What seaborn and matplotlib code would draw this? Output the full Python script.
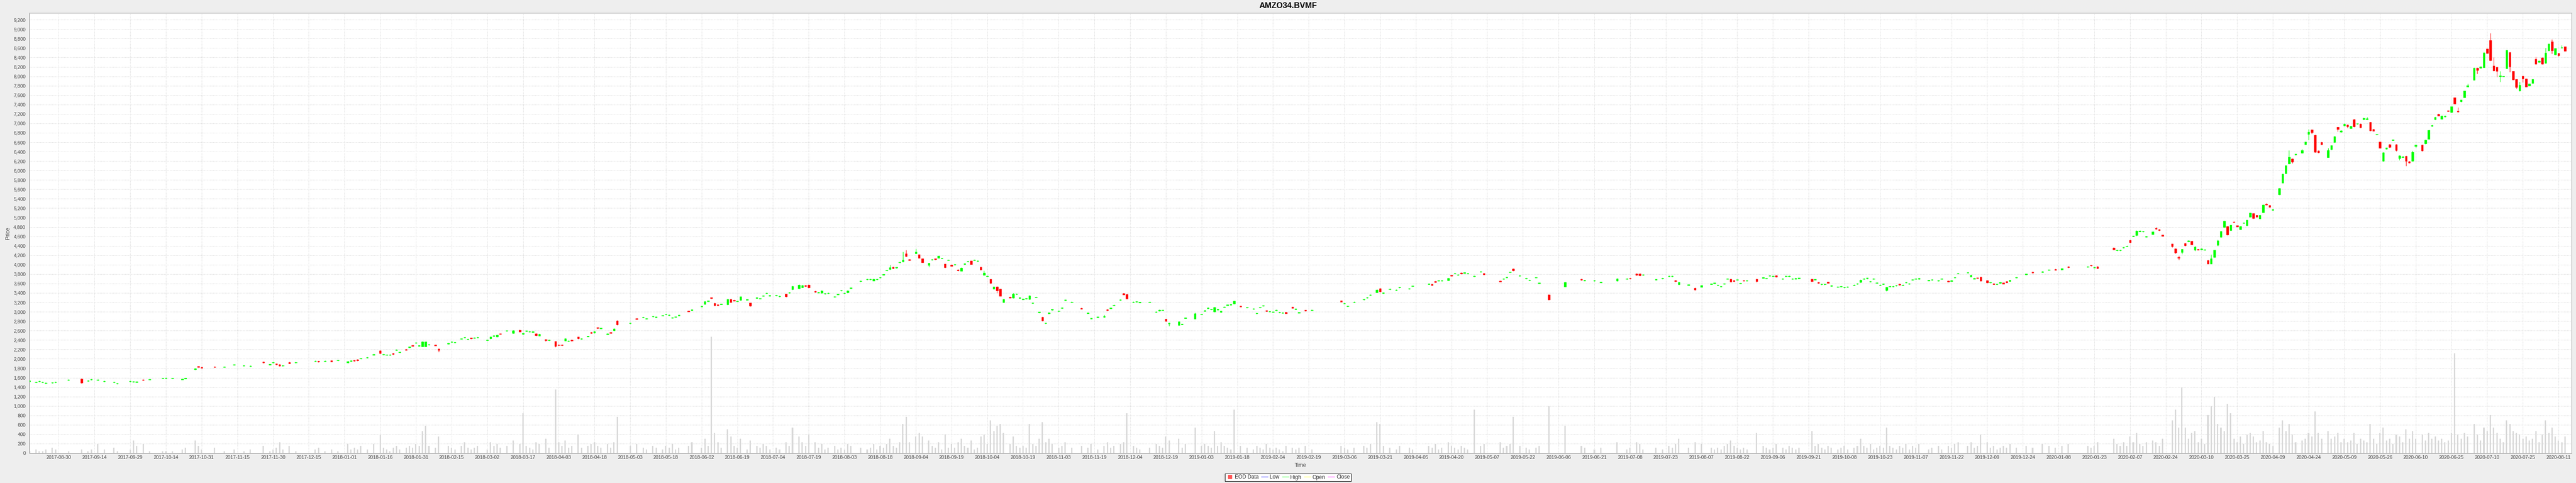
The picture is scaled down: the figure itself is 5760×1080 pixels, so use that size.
import numpy as np
import matplotlib
matplotlib.use("Agg")
import matplotlib.pyplot as plt
from matplotlib.lines import Line2D
from matplotlib.ticker import FuncFormatter, MultipleLocator
import seaborn as sns

# daily EOD candles, AMZO34.BVMF
dates = [
    # 2017-08 .. 2018-05
    "2017-08-17", "2017-08-21", "2017-08-22", "2017-08-23", "2017-08-24", "2017-08-28", "2017-08-29", "2017-09-04", "2017-09-08", "2017-09-12",
    "2017-09-13", "2017-09-15", "2017-09-19", "2017-09-22", "2017-09-25", "2017-09-29", "2017-10-02", "2017-10-03", "2017-10-05", "2017-10-09",
    "2017-10-13", "2017-10-16", "2017-10-18", "2017-10-23", "2017-10-24", "2017-10-27", "2017-10-30", "2017-10-31", "2017-11-06", "2017-11-09",
    "2017-11-14", "2017-11-17", "2017-11-21", "2017-11-27", "2017-11-29", "2017-11-30", "2017-12-01", "2017-12-04", "2017-12-05", "2017-12-07",
    "2017-12-11", "2017-12-19", "2017-12-20", "2017-12-22", "2017-12-26", "2017-12-28", "2018-01-02", "2018-01-03", "2018-01-04", "2018-01-05",
    "2018-01-08", "2018-01-10", "2018-01-12", "2018-01-16", "2018-01-17", "2018-01-18", "2018-01-19", "2018-01-22", "2018-01-23", "2018-01-24",
    "2018-01-26", "2018-01-29", "2018-01-30", "2018-01-31", "2018-02-01", "2018-02-02", "2018-02-05", "2018-02-06", "2018-02-08", "2018-02-09",
    "2018-02-14", "2018-02-15", "2018-02-16", "2018-02-20", "2018-02-21", "2018-02-22", "2018-02-23", "2018-02-26", "2018-02-27", "2018-03-02",
    "2018-03-05", "2018-03-06", "2018-03-07", "2018-03-08", "2018-03-12", "2018-03-14", "2018-03-16", "2018-03-19", "2018-03-20", "2018-03-21",
    "2018-03-22", "2018-03-23", "2018-03-26", "2018-03-28", "2018-03-29", "2018-04-02", "2018-04-03", "2018-04-04", "2018-04-05", "2018-04-06",
    "2018-04-09", "2018-04-11", "2018-04-12", "2018-04-16", "2018-04-17", "2018-04-18", "2018-04-19", "2018-04-20", "2018-04-24", "2018-04-25",
    "2018-04-26", "2018-04-27", "2018-05-03", "2018-05-07", "2018-05-09", "2018-05-10", "2018-05-14", "2018-05-15", "2018-05-17", "2018-05-18",
    "2018-05-21", "2018-05-22", "2018-05-23", "2018-05-24", "2018-05-29", "2018-05-30",
    # 2018-06 .. 2019-02
    "2018-06-04", "2018-06-05", "2018-06-06", "2018-06-07", "2018-06-08", "2018-06-11", "2018-06-12", "2018-06-14", "2018-06-15", "2018-06-18",
    "2018-06-19", "2018-06-20", "2018-06-22", "2018-06-25", "2018-06-27", "2018-06-28", "2018-06-29", "2018-07-02", "2018-07-03", "2018-07-05",
    "2018-07-06", "2018-07-10", "2018-07-11", "2018-07-12", "2018-07-16", "2018-07-17", "2018-07-18", "2018-07-19", "2018-07-23", "2018-07-24",
    "2018-07-25", "2018-07-26", "2018-07-27", "2018-07-31", "2018-08-01", "2018-08-02", "2018-08-03", "2018-08-06", "2018-08-07", "2018-08-10",
    "2018-08-14", "2018-08-15", "2018-08-16", "2018-08-17", "2018-08-20", "2018-08-21", "2018-08-22", "2018-08-23", "2018-08-24", "2018-08-27",
    "2018-08-28", "2018-08-29", "2018-08-30", "2018-08-31", "2018-09-04", "2018-09-05", "2018-09-06", "2018-09-10", "2018-09-11", "2018-09-12",
    "2018-09-13", "2018-09-14", "2018-09-17", "2018-09-18", "2018-09-19", "2018-09-20", "2018-09-21", "2018-09-24", "2018-09-25", "2018-09-26",
    "2018-09-27", "2018-09-28", "2018-10-01", "2018-10-02", "2018-10-03", "2018-10-04", "2018-10-05", "2018-10-08", "2018-10-09", "2018-10-10",
    "2018-10-11", "2018-10-15", "2018-10-16", "2018-10-17", "2018-10-18", "2018-10-19", "2018-10-22", "2018-10-23", "2018-10-24", "2018-10-25",
    "2018-10-26", "2018-10-29", "2018-10-30", "2018-10-31", "2018-11-01", "2018-11-05", "2018-11-06", "2018-11-07", "2018-11-09", "2018-11-14",
    "2018-11-16", "2018-11-19", "2018-11-21", "2018-11-23", "2018-11-26", "2018-11-27", "2018-11-28", "2018-11-30", "2018-12-03", "2018-12-04",
    "2018-12-06", "2018-12-07", "2018-12-10", "2018-12-13", "2018-12-17", "2018-12-18", "2018-12-19", "2018-12-20", "2018-12-21", "2018-12-26",
    "2018-12-27", "2018-12-28", "2019-01-02", "2019-01-04", "2019-01-07", "2019-01-08", "2019-01-09", "2019-01-10", "2019-01-11", "2019-01-14",
    "2019-01-15", "2019-01-16", "2019-01-17", "2019-01-18", "2019-01-22", "2019-01-24", "2019-01-28", "2019-01-29", "2019-01-30", "2019-01-31",
    "2019-02-01", "2019-02-04", "2019-02-05", "2019-02-06", "2019-02-07", "2019-02-08", "2019-02-11", "2019-02-13", "2019-02-14", "2019-02-15",
    "2019-02-19", "2019-02-21",
    # 2019-03 .. 2020-01
    "2019-03-06", "2019-03-07", "2019-03-08", "2019-03-12", "2019-03-15", "2019-03-18", "2019-03-19", "2019-03-21", "2019-03-22", "2019-03-25",
    "2019-03-27", "2019-03-29", "2019-04-01", "2019-04-04", "2019-04-05", "2019-04-12", "2019-04-15", "2019-04-16", "2019-04-17", "2019-04-18",
    "2019-04-22", "2019-04-23", "2019-04-24", "2019-04-25", "2019-04-26", "2019-04-29", "2019-04-30", "2019-05-02", "2019-05-06", "2019-05-07",
    "2019-05-14", "2019-05-15", "2019-05-16", "2019-05-17", "2019-05-20", "2019-05-22", "2019-05-24", "2019-05-27", "2019-05-29", "2019-05-30",
    "2019-06-04", "2019-06-11", "2019-06-18", "2019-06-19", "2019-06-24", "2019-06-26", "2019-07-03", "2019-07-08", "2019-07-09", "2019-07-11",
    "2019-07-12", "2019-07-15", "2019-07-19", "2019-07-23", "2019-07-25", "2019-07-26", "2019-07-29", "2019-07-30", "2019-08-02", "2019-08-06",
    "2019-08-08", "2019-08-13", "2019-08-14", "2019-08-15", "2019-08-16", "2019-08-19", "2019-08-20", "2019-08-21", "2019-08-22", "2019-08-23",
    "2019-08-26", "2019-08-27", "2019-08-28", "2019-09-02", "2019-09-04", "2019-09-05", "2019-09-06", "2019-09-09", "2019-09-10", "2019-09-12",
    "2019-09-13", "2019-09-16", "2019-09-17", "2019-09-18", "2019-09-19", "2019-09-25", "2019-09-26", "2019-09-27", "2019-09-30", "2019-10-01",
    "2019-10-02", "2019-10-03", "2019-10-07", "2019-10-08", "2019-10-09", "2019-10-10", "2019-10-14", "2019-10-15", "2019-10-16", "2019-10-17",
    "2019-10-18", "2019-10-21", "2019-10-22", "2019-10-23", "2019-10-24", "2019-10-25", "2019-10-28", "2019-10-29", "2019-10-30", "2019-10-31",
    "2019-11-01", "2019-11-04", "2019-11-05", "2019-11-06", "2019-11-07", "2019-11-08", "2019-11-11", "2019-11-14", "2019-11-15", "2019-11-19",
    "2019-11-20", "2019-11-22", "2019-11-25", "2019-11-26", "2019-11-27", "2019-12-02", "2019-12-03", "2019-12-04", "2019-12-05", "2019-12-06",
    "2019-12-10", "2019-12-11", "2019-12-12", "2019-12-13", "2019-12-16", "2019-12-17", "2019-12-18", "2019-12-19", "2019-12-23", "2019-12-26",
    "2019-12-30", "2020-01-02", "2020-01-06", "2020-01-08", "2020-01-10",
    # 2020-01 .. 2020-08
    "2020-01-14", "2020-01-22", "2020-01-23", "2020-01-24", "2020-01-27", "2020-02-03", "2020-02-04", "2020-02-05", "2020-02-06", "2020-02-07",
    "2020-02-10", "2020-02-11", "2020-02-12", "2020-02-13", "2020-02-14", "2020-02-17", "2020-02-19", "2020-02-20", "2020-02-21", "2020-02-24",
    "2020-02-27", "2020-02-28", "2020-03-02", "2020-03-03", "2020-03-04", "2020-03-05", "2020-03-06", "2020-03-09", "2020-03-10", "2020-03-11",
    "2020-03-12", "2020-03-13", "2020-03-16", "2020-03-17", "2020-03-18", "2020-03-19", "2020-03-20", "2020-03-23", "2020-03-24", "2020-03-25",
    "2020-03-26", "2020-03-27", "2020-03-30", "2020-03-31", "2020-04-01", "2020-04-02", "2020-04-03", "2020-04-06", "2020-04-07", "2020-04-08",
    "2020-04-09", "2020-04-10", "2020-04-14", "2020-04-15", "2020-04-16", "2020-04-17", "2020-04-20", "2020-04-21", "2020-04-23", "2020-04-24",
    "2020-04-27", "2020-04-28", "2020-04-29", "2020-04-30", "2020-05-01", "2020-05-05", "2020-05-06", "2020-05-07", "2020-05-08", "2020-05-11",
    "2020-05-12", "2020-05-13", "2020-05-14", "2020-05-15", "2020-05-18", "2020-05-19", "2020-05-20", "2020-05-21", "2020-05-22", "2020-05-25",
    "2020-05-26", "2020-05-27", "2020-05-28", "2020-05-29", "2020-06-01", "2020-06-02", "2020-06-03", "2020-06-04", "2020-06-05", "2020-06-08",
    "2020-06-09", "2020-06-10", "2020-06-11", "2020-06-15", "2020-06-16", "2020-06-17", "2020-06-18", "2020-06-19", "2020-06-22", "2020-06-23",
    "2020-06-24", "2020-06-25", "2020-06-26", "2020-06-29", "2020-06-30", "2020-07-01", "2020-07-02", "2020-07-03", "2020-07-07", "2020-07-08",
    "2020-07-09", "2020-07-10", "2020-07-13", "2020-07-14", "2020-07-15", "2020-07-16", "2020-07-17", "2020-07-20", "2020-07-21", "2020-07-22",
    "2020-07-23", "2020-07-24", "2020-07-27", "2020-07-28", "2020-07-29", "2020-07-30", "2020-07-31", "2020-08-03", "2020-08-04", "2020-08-05",
    "2020-08-06", "2020-08-07", "2020-08-10", "2020-08-11", "2020-08-12", "2020-08-13", "2020-08-14",
]

opens = [
    1524, 1502, 1518, 1500, 1481, 1487, 1500, 1548, 1578, 1525,
    1557, 1545, 1519, 1497, 1472, 1516, 1510, 1503, 1558, 1557,
    1582, 1586, 1582, 1560, 1579, 1778, 1840, 1823, 1836, 1823,
    1870, 1851, 1839, 1940, 1874, 1918, 1896, 1880, 1851, 1928,
    1918, 1946, 1953, 1946, 1962, 1962, 1915, 1950, 1972, 1984,
    2003, 2019, 2084, 2174, 2086, 2079, 2076, 2116, 2184, 2136,
    2204, 2243, 2290, 2336, 2272, 2263, 2264, 2295, 2300, 2215,
    2318, 2354, 2342, 2418, 2448, 2412, 2448, 2440, 2449, 2393,
    2428, 2480, 2467, 2540, 2592, 2548, 2614, 2528, 2586, 2573,
    2567, 2535, 2491, 2415, 2394, 2370, 2298, 2297, 2386, 2371,
    2402, 2465, 2421, 2472, 2563, 2554, 2664, 2643, 2520, 2565,
    2599, 2813, 2754, 2860, 2877, 2845, 2896, 2880, 2915, 2942,
    2921, 2864, 2887, 2918, 3022, 3031,
    3108, 3162, 3222, 3302, 3181, 3155, 3156, 3155, 3266, 3249,
    3219, 3247, 3251, 3187, 3289, 3276, 3330, 3387, 3336, 3342,
    3320, 3377, 3399, 3472, 3497, 3518, 3560, 3570, 3440, 3403,
    3399, 3380, 3387, 3314, 3365, 3447, 3387, 3410, 3498, 3646,
    3684, 3684, 3660, 3684, 3719, 3782, 3874, 3905, 3950, 3932,
    4044, 4064, 4238, 4112, 4239, 4212, 4127, 3985, 4098, 4128,
    4143, 4128, 4013, 4089, 3998, 3996, 3895, 3868, 4009, 4061,
    4080, 4089, 4074, 3950, 3780, 3749, 3690, 3485, 3535, 3485,
    3200, 3318, 3295, 3367, 3289, 3260, 3276, 3263, 3181, 3301,
    2978, 2889, 2751, 2962, 3036, 3010, 3077, 3241, 3197, 3074,
    2966, 2852, 2880, 2888, 3048, 3070, 3131, 3244, 3390, 3374,
    3200, 3206, 3194, 3197, 2991, 3020, 3029, 2845, 2748, 2716,
    2729, 2861, 2852, 2944, 3015, 3070, 3045, 2997, 3043, 2990,
    3092, 3137, 3146, 3174, 3126, 3086, 3058, 2963, 3083, 3121,
    3025, 2997, 2991, 3029, 2979, 2969, 2996, 3104, 3051, 2975,
    3035, 3029,
    3234, 3171, 3114, 3196, 3256, 3294, 3348, 3414, 3493, 3395,
    3475, 3459, 3513, 3487, 3538, 3585, 3587, 3646, 3655, 3655,
    3665, 3780, 3804, 3775, 3829, 3820, 3807, 3750, 3845, 3815,
    3661, 3690, 3725, 3835, 3915, 3759, 3702, 3668, 3718, 3604,
    3363, 3537, 3693, 3661, 3652, 3623, 3658, 3696, 3714, 3808,
    3810, 3779, 3680, 3702, 3747, 3753, 3668, 3580, 3566, 3506,
    3528, 3585, 3604, 3557, 3532, 3588, 3693, 3699, 3665, 3674,
    3598, 3668, 3652, 3699, 3716, 3702, 3756, 3747, 3772, 3696,
    3753, 3753, 3696, 3699, 3706, 3699, 3680, 3632, 3576, 3582,
    3635, 3547, 3525, 3535, 3513, 3522, 3563, 3592, 3629, 3693,
    3706, 3636, 3693, 3608, 3557, 3585, 3458, 3532, 3532, 3554,
    3590, 3563, 3620, 3592, 3671, 3690, 3696, 3661, 3677, 3652,
    3693, 3660, 3650, 3718, 3807, 3829, 3745, 3699, 3727, 3737,
    3664, 3620, 3600, 3576, 3610, 3614, 3643, 3650, 3720, 3790,
    3850, 3840, 3880, 3905, 3895,
    3962, 3948, 3992, 3934, 3963, 4357, 4301, 4301, 4357, 4384,
    4520, 4601, 4623, 4705, 4697, 4591, 4647, 4780, 4747, 4630,
    4440, 4340, 4160, 4260, 4453, 4490, 4497, 4313, 4326, 4322,
    4309, 4093, 4020, 4163, 4420, 4587, 4797, 4817, 4730, 4912,
    4830, 4747, 4880, 4833, 5013, 5087, 5050, 4980, 5107, 5290,
    5262, 5160, 5487, 5740, 5940, 6140, 6253, 6330, 6373, 6557,
    6773, 6870, 6753, 6420, 6603, 6280, 6447, 6597, 6920, 6815,
    6950, 6970, 6898, 7087, 6985, 6993, 7083, 7080, 7023, 6880,
    6758, 6607, 6197, 6457, 6553, 6642, 6553, 6260, 6280, 6307,
    6195, 6197, 6515, 6547, 6573, 6670, 6940, 7080, 7200, 7090,
    7137, 7272, 7233, 7547, 7262, 7460, 7553, 7777, 7923, 8180,
    8177, 8190, 8587, 8763, 8223, 8197, 7995, 7997, 8163, 8507,
    8107, 7937, 7690, 8007, 7947, 7800, 7857, 8363, 8300, 8397,
    8280, 8547, 8740, 8463, 8490, 8605, 8630,
]

highs = [
    1545, 1522, 1538, 1518, 1500, 1505, 1520, 1568, 1582, 1545,
    1576, 1565, 1538, 1516, 1490, 1535, 1528, 1522, 1566, 1576,
    1600, 1605, 1600, 1578, 1598, 1800, 1848, 1830, 1844, 1842,
    1890, 1870, 1858, 1948, 1894, 1937, 1904, 1886, 1870, 1934,
    1937, 1965, 1960, 1965, 1968, 1981, 1952, 1969, 1978, 1990,
    2022, 2038, 2108, 2180, 2105, 2098, 2095, 2124, 2203, 2155,
    2210, 2264, 2296, 2355, 2291, 2370, 2372, 2314, 2306, 2222,
    2341, 2376, 2361, 2437, 2471, 2431, 2454, 2459, 2470, 2412,
    2480, 2500, 2512, 2547, 2611, 2611, 2622, 2550, 2605, 2592,
    2586, 2542, 2536, 2422, 2411, 2376, 2304, 2303, 2437, 2390,
    2409, 2472, 2440, 2491, 2570, 2593, 2670, 2662, 2543, 2571,
    2647, 2820, 2773, 2867, 2896, 2864, 2915, 2899, 2934, 2963,
    2940, 2883, 2906, 2937, 3029, 3052,
    3127, 3226, 3241, 3309, 3188, 3162, 3175, 3273, 3273, 3255,
    3238, 3327, 3270, 3194, 3308, 3295, 3349, 3406, 3355, 3361,
    3339, 3384, 3418, 3548, 3580, 3570, 3567, 3577, 3447, 3422,
    3453, 3399, 3406, 3333, 3384, 3466, 3406, 3457, 3517, 3665,
    3703, 3703, 3704, 3703, 3738, 3801, 3893, 4000, 3957, 3955,
    4065, 4270, 4308, 4118, 4339, 4219, 4134, 4039, 4119, 4134,
    4191, 4147, 4020, 4108, 4005, 4019, 3902, 3941, 4030, 4080,
    4087, 4108, 4093, 3957, 3870, 3772, 3697, 3540, 3542, 3492,
    3273, 3325, 3400, 3388, 3308, 3285, 3295, 3349, 3200, 3320,
    3005, 2896, 2770, 2989, 3061, 3029, 3096, 3260, 3216, 3090,
    2985, 2871, 2899, 2935, 3055, 3089, 3150, 3263, 3396, 3381,
    3219, 3225, 3213, 3216, 3010, 3045, 3048, 2852, 2773, 2795,
    2748, 2880, 2980, 2963, 3038, 3095, 3064, 3102, 3066, 3024,
    3111, 3156, 3165, 3235, 3133, 3105, 3077, 2982, 3102, 3140,
    3032, 3016, 3010, 3048, 2998, 2988, 3002, 3110, 3070, 2994,
    3042, 3048,
    3241, 3190, 3133, 3215, 3275, 3313, 3367, 3472, 3500, 3414,
    3494, 3478, 3532, 3506, 3557, 3604, 3594, 3653, 3674, 3674,
    3720, 3787, 3823, 3794, 3836, 3845, 3826, 3769, 3864, 3822,
    3668, 3709, 3744, 3854, 3922, 3778, 3721, 3687, 3737, 3623,
    3370, 3633, 3700, 3680, 3671, 3642, 3709, 3715, 3720, 3815,
    3817, 3798, 3699, 3721, 3766, 3772, 3675, 3634, 3585, 3513,
    3573, 3604, 3623, 3576, 3551, 3607, 3712, 3706, 3672, 3693,
    3617, 3675, 3671, 3706, 3739, 3721, 3775, 3766, 3779, 3715,
    3772, 3772, 3715, 3718, 3725, 3706, 3699, 3639, 3595, 3601,
    3642, 3566, 3544, 3554, 3532, 3541, 3582, 3611, 3687, 3712,
    3725, 3655, 3712, 3627, 3576, 3604, 3532, 3551, 3551, 3573,
    3597, 3582, 3639, 3611, 3690, 3709, 3721, 3680, 3696, 3671,
    3712, 3667, 3673, 3737, 3826, 3848, 3790, 3718, 3734, 3744,
    3671, 3639, 3607, 3595, 3637, 3621, 3650, 3679, 3742, 3812,
    3858, 3866, 3902, 3912, 3925,
    3970, 3970, 4000, 3955, 3970, 4364, 4320, 4320, 4376, 4403,
    4527, 4620, 4730, 4728, 4716, 4610, 4710, 4800, 4754, 4637,
    4447, 4347, 4185, 4334, 4460, 4517, 4510, 4397, 4333, 4345,
    4328, 4100, 4220, 4314, 4530, 4720, 4937, 4824, 4847, 4917,
    4837, 4820, 4901, 4957, 5110, 5094, 5057, 5064, 5277, 5310,
    5269, 5187, 5627, 5937, 6114, 6430, 6260, 6357, 6460, 6614,
    6880, 6877, 6760, 6427, 6610, 6480, 6537, 6730, 6927, 6852,
    7000, 6977, 6950, 7094, 7000, 7000, 7124, 7130, 7030, 6887,
    6773, 6614, 6387, 6490, 6560, 6657, 6560, 6327, 6310, 6314,
    6202, 6420, 6552, 6554, 6654, 6864, 6970, 7137, 7207, 7170,
    7170, 7279, 7364, 7554, 7340, 7507, 7697, 7840, 8187, 8187,
    8210, 8520, 8594, 8913, 8400, 8204, 8110, 8010, 8560, 8514,
    8114, 7944, 7880, 8014, 7954, 7847, 7944, 8410, 8337, 8404,
    8600, 8697, 8780, 8597, 8497, 8665, 8637,
]

lows = [
    1515, 1495, 1512, 1494, 1474, 1480, 1494, 1540, 1484, 1518,
    1550, 1538, 1512, 1490, 1465, 1508, 1503, 1496, 1538, 1550,
    1575, 1580, 1576, 1553, 1572, 1770, 1818, 1802, 1815, 1816,
    1863, 1844, 1832, 1913, 1867, 1911, 1872, 1842, 1845, 1895,
    1911, 1939, 1932, 1940, 1936, 1955, 1908, 1943, 1946, 1960,
    1996, 2012, 2076, 2110, 2079, 2072, 2069, 2094, 2177, 2129,
    2180, 2236, 2268, 2329, 2265, 2256, 2258, 2288, 2276, 2149,
    2311, 2347, 2335, 2411, 2441, 2405, 2425, 2433, 2442, 2386,
    2420, 2474, 2460, 2518, 2585, 2540, 2570, 2520, 2579, 2566,
    2560, 2490, 2484, 2375, 2388, 2255, 2278, 2279, 2379, 2364,
    2378, 2420, 2414, 2465, 2538, 2547, 2640, 2636, 2513, 2537,
    2592, 2714, 2747, 2836, 2870, 2838, 2889, 2873, 2908, 2936,
    2914, 2857, 2880, 2911, 2998, 3024,
    3101, 3155, 3215, 3276, 3123, 3131, 3149, 3148, 3196, 3227,
    3212, 3240, 3244, 3117, 3282, 3269, 3323, 3380, 3329, 3335,
    3313, 3313, 3392, 3465, 3490, 3510, 3536, 3503, 3410, 3396,
    3392, 3373, 3380, 3307, 3358, 3440, 3380, 3403, 3491, 3639,
    3677, 3677, 3653, 3677, 3712, 3775, 3867, 3898, 3911, 3925,
    4037, 4057, 4168, 4085, 4232, 4136, 4041, 3953, 4091, 4101,
    4136, 4121, 3930, 4082, 3966, 3989, 3864, 3861, 4002, 4054,
    4003, 4082, 4067, 3883, 3773, 3742, 3604, 3478, 3399, 3329,
    3193, 3290, 3288, 3360, 3282, 3253, 3269, 3256, 3174, 3294,
    2971, 2800, 2744, 2955, 3029, 3003, 3070, 3234, 3190, 3054,
    2959, 2845, 2873, 2880, 3022, 3063, 3124, 3237, 3358, 3272,
    3193, 3199, 3187, 3190, 2984, 3013, 3022, 2791, 2697, 2709,
    2722, 2854, 2845, 2937, 3008, 3063, 3038, 2990, 3036, 2983,
    3085, 3130, 3139, 3167, 3102, 3079, 3051, 2956, 3076, 3114,
    3001, 2990, 2984, 3022, 2972, 2962, 2959, 3074, 3044, 2968,
    3011, 3022,
    3207, 3164, 3107, 3189, 3249, 3287, 3341, 3407, 3417, 3388,
    3468, 3452, 3506, 3480, 3531, 3578, 3559, 3620, 3648, 3648,
    3658, 3752, 3797, 3768, 3803, 3813, 3800, 3743, 3838, 3785,
    3635, 3683, 3718, 3828, 3863, 3752, 3695, 3661, 3711, 3597,
    3249, 3530, 3667, 3654, 3645, 3616, 3651, 3689, 3696, 3771,
    3761, 3772, 3673, 3695, 3740, 3746, 3642, 3573, 3559, 3461,
    3521, 3578, 3597, 3550, 3525, 3581, 3686, 3630, 3639, 3667,
    3591, 3648, 3645, 3630, 3709, 3695, 3749, 3740, 3733, 3689,
    3746, 3746, 3689, 3692, 3699, 3638, 3673, 3602, 3569, 3575,
    3605, 3540, 3518, 3528, 3506, 3515, 3556, 3585, 3622, 3686,
    3699, 3629, 3686, 3601, 3550, 3578, 3440, 3525, 3525, 3547,
    3562, 3556, 3613, 3585, 3664, 3683, 3689, 3654, 3670, 3645,
    3686, 3630, 3643, 3711, 3800, 3822, 3738, 3692, 3703, 3651,
    3613, 3613, 3576, 3569, 3603, 3588, 3617, 3643, 3712, 3782,
    3822, 3832, 3872, 3880, 3888,
    3935, 3940, 3968, 3928, 3913, 4316, 4294, 4294, 4350, 4377,
    4466, 4594, 4616, 4698, 4690, 4584, 4640, 4750, 4720, 4604,
    4370, 4240, 4100, 4230, 4400, 4483, 4423, 4297, 4308, 4315,
    4302, 4013, 4013, 4150, 4400, 4580, 4790, 4623, 4723, 4897,
    4803, 4740, 4873, 4826, 5006, 4980, 5003, 4973, 5100, 5263,
    5213, 5153, 5480, 5733, 5933, 6133, 6150, 6323, 6366, 6550,
    6650, 6780, 6380, 6373, 6546, 6273, 6440, 6590, 6830, 6808,
    6943, 6900, 6890, 6923, 6980, 6906, 7076, 7073, 6840, 6833,
    6753, 6473, 6190, 6450, 6490, 6637, 6410, 6220, 6273, 6097,
    6150, 6190, 6490, 6413, 6566, 6663, 6933, 7073, 7158, 7083,
    7130, 7251, 7226, 7406, 7241, 7453, 7546, 7770, 7916, 8050,
    8170, 8183, 8480, 8330, 8113, 7990, 7880, 7990, 8156, 8090,
    7923, 7740, 7683, 7870, 7773, 7793, 7850, 8256, 8293, 8256,
    8273, 8540, 8480, 8456, 8420, 8598, 8530,
]

closes = [
    1536, 1514, 1530, 1511, 1492, 1498, 1511, 1559, 1490, 1537,
    1568, 1556, 1530, 1508, 1483, 1527, 1521, 1514, 1545, 1568,
    1593, 1597, 1593, 1571, 1590, 1792, 1825, 1809, 1822, 1835,
    1882, 1863, 1851, 1920, 1886, 1930, 1882, 1848, 1863, 1900,
    1930, 1958, 1939, 1958, 1942, 1974, 1945, 1962, 1952, 1966,
    2015, 2031, 2100, 2117, 2098, 2091, 2088, 2100, 2196, 2148,
    2188, 2257, 2274, 2348, 2284, 2364, 2360, 2307, 2282, 2180,
    2334, 2368, 2354, 2430, 2464, 2424, 2432, 2452, 2463, 2405,
    2472, 2494, 2506, 2524, 2604, 2604, 2576, 2542, 2598, 2585,
    2579, 2497, 2529, 2390, 2404, 2266, 2284, 2285, 2430, 2383,
    2384, 2427, 2433, 2484, 2545, 2586, 2646, 2655, 2536, 2543,
    2640, 2721, 2766, 2842, 2889, 2857, 2908, 2892, 2927, 2956,
    2933, 2876, 2899, 2930, 3004, 3045,
    3120, 3219, 3234, 3282, 3130, 3137, 3168, 3266, 3203, 3233,
    3231, 3320, 3263, 3124, 3301, 3288, 3342, 3399, 3348, 3354,
    3332, 3320, 3411, 3541, 3567, 3562, 3542, 3510, 3416, 3415,
    3446, 3392, 3399, 3326, 3377, 3459, 3399, 3450, 3510, 3658,
    3696, 3696, 3697, 3696, 3731, 3794, 3886, 3937, 3918, 3948,
    4058, 4105, 4175, 4092, 4270, 4143, 4048, 4032, 4112, 4108,
    4184, 4140, 3937, 4101, 3972, 4012, 3871, 3934, 4023, 4073,
    4010, 4101, 4086, 3890, 3827, 3765, 3611, 3532, 3447, 3336,
    3266, 3296, 3377, 3381, 3301, 3278, 3288, 3342, 3193, 3313,
    2998, 2807, 2763, 2982, 3054, 3022, 3089, 3253, 3209, 3060,
    2978, 2864, 2892, 2904, 3028, 3082, 3143, 3256, 3365, 3279,
    3212, 3218, 3206, 3209, 3003, 3038, 3041, 2798, 2766, 2788,
    2741, 2873, 2962, 2956, 3031, 3088, 3057, 3095, 3059, 3017,
    3104, 3149, 3158, 3228, 3108, 3098, 3070, 2975, 3095, 3133,
    3007, 3009, 3003, 3041, 2991, 2981, 2965, 3080, 3063, 2987,
    3017, 3041,
    3214, 3183, 3126, 3208, 3268, 3306, 3360, 3465, 3424, 3407,
    3487, 3471, 3525, 3499, 3550, 3597, 3565, 3626, 3667, 3667,
    3713, 3758, 3816, 3787, 3809, 3838, 3819, 3762, 3857, 3791,
    3641, 3702, 3737, 3847, 3870, 3771, 3714, 3680, 3730, 3616,
    3256, 3626, 3673, 3673, 3664, 3635, 3702, 3708, 3702, 3778,
    3768, 3791, 3692, 3714, 3759, 3765, 3648, 3627, 3578, 3468,
    3566, 3597, 3616, 3569, 3544, 3600, 3705, 3642, 3645, 3686,
    3610, 3654, 3664, 3648, 3732, 3714, 3768, 3759, 3740, 3708,
    3765, 3765, 3708, 3711, 3718, 3645, 3692, 3608, 3588, 3594,
    3611, 3559, 3537, 3547, 3525, 3534, 3575, 3604, 3680, 3705,
    3718, 3648, 3705, 3620, 3569, 3597, 3525, 3544, 3544, 3566,
    3568, 3575, 3632, 3604, 3683, 3702, 3714, 3673, 3689, 3664,
    3705, 3636, 3666, 3730, 3819, 3841, 3778, 3711, 3709, 3658,
    3620, 3632, 3582, 3588, 3630, 3594, 3623, 3672, 3735, 3805,
    3830, 3858, 3895, 3887, 3918,
    3942, 3962, 3975, 3946, 3920, 4323, 4313, 4313, 4369, 4396,
    4473, 4613, 4723, 4721, 4709, 4603, 4703, 4756, 4727, 4610,
    4387, 4257, 4140, 4327, 4407, 4510, 4430, 4380, 4314, 4338,
    4321, 4020, 4127, 4307, 4513, 4713, 4930, 4630, 4840, 4902,
    4810, 4813, 4894, 4950, 5103, 4987, 5010, 5057, 5270, 5270,
    5220, 5180, 5620, 5930, 6107, 6287, 6187, 6350, 6430, 6607,
    6823, 6813, 6387, 6380, 6553, 6430, 6530, 6723, 6880, 6845,
    6990, 6930, 6943, 6930, 6995, 6913, 7117, 7100, 6847, 6840,
    6768, 6480, 6380, 6483, 6497, 6652, 6430, 6320, 6300, 6197,
    6165, 6387, 6545, 6420, 6647, 6857, 6963, 7130, 7165, 7163,
    7163, 7258, 7357, 7413, 7248, 7500, 7690, 7803, 8180, 8130,
    8203, 8497, 8487, 8337, 8120, 8113, 8015, 8003, 8553, 8203,
    7930, 7773, 7813, 7953, 7780, 7840, 7937, 8263, 8330, 8263,
    8497, 8690, 8547, 8590, 8440, 8615, 8537,
]

volumes = [
    38, 77, 38, 38, 77, 115, 77, 38, 77, 38,
    77, 192, 77, 115, 38, 77, 270, 154, 192, 38,
    38, 38, 38, 77, 115, 270, 154, 77, 115, 38,
    77, 38, 77, 154, 38, 77, 115, 231, 77, 154,
    38, 77, 115, 38, 77, 38, 192, 77, 115, 77,
    154, 77, 192, 385, 115, 77, 38, 115, 154, 77,
    115, 154, 115, 192, 154, 462, 578, 154, 115, 347,
    154, 115, 77, 154, 231, 115, 77, 115, 154, 77,
    231, 154, 192, 115, 154, 270, 192, 847, 154, 115,
    77, 231, 192, 308, 115, 1347, 231, 154, 270, 115,
    154, 385, 115, 154, 192, 231, 154, 115, 192, 115,
    231, 770, 154, 192, 115, 77, 154, 115, 77, 154,
    115, 192, 77, 115, 154, 231,
    115, 308, 154, 2470, 424, 231, 115, 500, 347, 154,
    115, 308, 77, 270, 154, 115, 192, 154, 77, 115,
    77, 231, 154, 539, 347, 231, 154, 385, 231, 115,
    192, 77, 115, 154, 77, 115, 77, 192, 154, 115,
    77, 115, 192, 77, 154, 115, 192, 308, 154, 115,
    231, 616, 770, 231, 347, 424, 347, 270, 154, 115,
    231, 77, 385, 115, 192, 115, 231, 308, 154, 115,
    270, 77, 115, 347, 385, 192, 693, 462, 578, 616,
    424, 192, 347, 154, 115, 154, 115, 616, 192, 154,
    308, 654, 231, 308, 192, 115, 154, 231, 115, 154,
    115, 192, 77, 154, 231, 115, 154, 192, 231, 847,
    154, 115, 77, 115, 192, 154, 115, 347, 270, 308,
    115, 192, 539, 154, 192, 154, 115, 462, 154, 231,
    154, 115, 77, 924, 154, 115, 77, 154, 115, 77,
    192, 115, 77, 115, 77, 38, 154, 115, 77, 115,
    154, 77,
    154, 115, 77, 115, 154, 115, 192, 654, 616, 154,
    115, 77, 154, 115, 77, 154, 115, 192, 77, 115,
    231, 154, 115, 77, 154, 115, 77, 924, 154, 192,
    231, 115, 154, 192, 770, 154, 115, 77, 115, 154,
    1000, 578, 154, 115, 77, 115, 231, 77, 115, 231,
    192, 77, 115, 77, 154, 115, 192, 308, 115, 231,
    192, 115, 77, 115, 77, 154, 192, 270, 154, 115,
    77, 115, 77, 424, 154, 115, 77, 115, 192, 115,
    77, 154, 115, 77, 115, 462, 154, 192, 115, 77,
    154, 115, 77, 115, 154, 77, 115, 154, 308, 154,
    115, 192, 77, 115, 154, 115, 539, 154, 115, 77,
    154, 115, 192, 77, 154, 115, 192, 77, 115, 154,
    77, 154, 115, 192, 231, 154, 231, 115, 154, 385,
    231, 115, 154, 77, 115, 154, 115, 192, 115, 154,
    115, 192, 154, 115, 154,
    192, 154, 115, 154, 231, 308, 192, 154, 231, 154,
    347, 231, 424, 192, 154, 231, 270, 231, 154, 308,
    693, 924, 539, 1386, 539, 308, 424, 462, 231, 308,
    192, 808, 1001, 1194, 616, 539, 462, 1040, 847, 308,
    231, 347, 192, 385, 424, 347, 231, 270, 462, 231,
    192, 154, 539, 693, 462, 616, 385, 231, 270, 308,
    424, 347, 886, 424, 308, 462, 308, 347, 424, 231,
    308, 231, 270, 424, 192, 308, 270, 231, 616, 308,
    192, 424, 539, 270, 308, 192, 385, 347, 231, 500,
    308, 462, 308, 385, 270, 424, 308, 347, 270, 308,
    231, 270, 424, 2117, 385, 308, 424, 347, 616, 385,
    270, 539, 462, 808, 539, 424, 308, 231, 693, 616,
    462, 424, 385, 308, 347, 270, 308, 462, 231, 385,
    693, 424, 539, 347, 270, 231, 347,
]

tick_labels = [
    "2017-08-30", "2017-09-14", "2017-09-29", "2017-10-14", "2017-10-31", "2017-11-15", "2017-11-30", "2017-12-15",
    "2018-01-01", "2018-01-16", "2018-01-31", "2018-02-15", "2018-03-02", "2018-03-17", "2018-04-03", "2018-04-18",
    "2018-05-03", "2018-05-18", "2018-06-02", "2018-06-19", "2018-07-04", "2018-07-19", "2018-08-03", "2018-08-18",
    "2018-09-04", "2018-09-19", "2018-10-04", "2018-10-19", "2018-11-03", "2018-11-19", "2018-12-04", "2018-12-19",
    "2019-01-03", "2019-01-18", "2019-02-04", "2019-02-19", "2019-03-06", "2019-03-21", "2019-04-05", "2019-04-20",
    "2019-05-07", "2019-05-22", "2019-06-06", "2019-06-21", "2019-07-08", "2019-07-23", "2019-08-07", "2019-08-22",
    "2019-09-06", "2019-09-21", "2019-10-08", "2019-10-23", "2019-11-07", "2019-11-22", "2019-12-09", "2019-12-24",
    "2020-01-08", "2020-01-23", "2020-02-07", "2020-02-24", "2020-03-10", "2020-03-25", "2020-04-09", "2020-04-24",
    "2020-05-09", "2020-05-26", "2020-06-10", "2020-06-25", "2020-07-10", "2020-07-25", "2020-08-11",
]

n = len(dates)
assert all(len(s) == n for s in (opens, highs, lows, closes, volumes)), [len(s) for s in (dates, opens, highs, lows, closes, volumes)]

sns.set_theme(style="white")
plt.rcParams["font.family"] = ["Liberation Sans", "DejaVu Sans"]

# time axis skips weekends: position = trading days since first tick
x = np.busday_count("2017-08-30", np.array(dates, dtype="datetime64[D]"))
o = np.array(opens, dtype=float)
h = np.array(highs, dtype=float)
l = np.array(lows, dtype=float)
c = np.array(closes, dtype=float)
up = c >= o
cols = np.where(up, "#00ff00", "#ff0000")

W, H = 5760, 1080
fig = plt.figure(figsize=(W / 100, H / 100), dpi=100)
fig.patch.set_facecolor("#eeeeee")
ax = fig.add_axes([65.7 / W, (H - 1013) / H, (5750 - 65.7) / W, (1013 - 29.3) / H])
ax.set_facecolor("white")

ax.bar(x, volumes, width=0.42, color="#d9d9d9", linewidth=0, zorder=1)
ax.vlines(x, l, h, colors=cols, linewidth=0.8, zorder=3)
ax.bar(x, np.maximum(np.abs(c - o), 12), bottom=np.minimum(o, c), width=0.62,
       color=cols, edgecolor=cols, linewidth=0.4, zorder=4)

ax.set_xlim(-9.06, 774.0)
ax.set_ylim(0, 9342)
ax.set_xticks(np.arange(len(tick_labels)) * 11)
ax.set_xticklabels(tick_labels)
ax.yaxis.set_major_locator(MultipleLocator(200))
ax.yaxis.set_major_formatter(FuncFormatter(lambda v, _: f"{v:,.0f}"))

ax.grid(True, color="#cfcfcf", linestyle=(0, (2, 2)), linewidth=0.6)
ax.set_axisbelow(True)
for side in ("top", "right"):
    ax.spines[side].set_color("#b4b4b4")
for side in ("left", "bottom"):
    ax.spines[side].set_color("#888888")
for sp in ax.spines.values():
    sp.set_linewidth(1.0)
ax.tick_params(axis="both", length=2, width=0.7, color="#888888", labelsize=7.8, labelcolor="#404040")
ax.tick_params(axis="x", pad=1.8)
ax.tick_params(axis="y", pad=4.0)

fig.text(0.5, 1 - 13 / H, "AMZO34.BVMF", ha="center", va="center", fontsize=13, fontweight="bold", color="black")
fig.text((65.7 + 5750) / 2 / W, 1 - 1041 / H, "Time", ha="center", va="center", fontsize=8.7, color="#404040")
fig.text(18 / W, 1 - 521 / H, "Price", ha="center", va="center", rotation=90, fontsize=8.7, color="#404040")

handles = [
    Line2D([], [], marker="s", linestyle="none", markersize=6, color="#ff5555"),
    Line2D([], [], color="#5555ff", linewidth=1),
    Line2D([], [], color="#55ff55", linewidth=1),
    Line2D([], [], color="#ffff55", linewidth=1),
    Line2D([], [], color="#ff55ff", linewidth=1),
]
leg = fig.legend(handles, ["EOD Data", "Low", "High", "Open", "Close"], loc="center",
                 bbox_to_anchor=(0.5, 1 - 1067.5 / H), ncol=5, fontsize=8.5, frameon=True,
                 fancybox=False, edgecolor="black", framealpha=1, handlelength=1.3,
                 handletextpad=0.3, columnspacing=0.5, borderpad=0.25, borderaxespad=0)
leg.get_frame().set_linewidth(0.8)

fig.savefig("out.png", dpi=100, facecolor=fig.get_facecolor())
